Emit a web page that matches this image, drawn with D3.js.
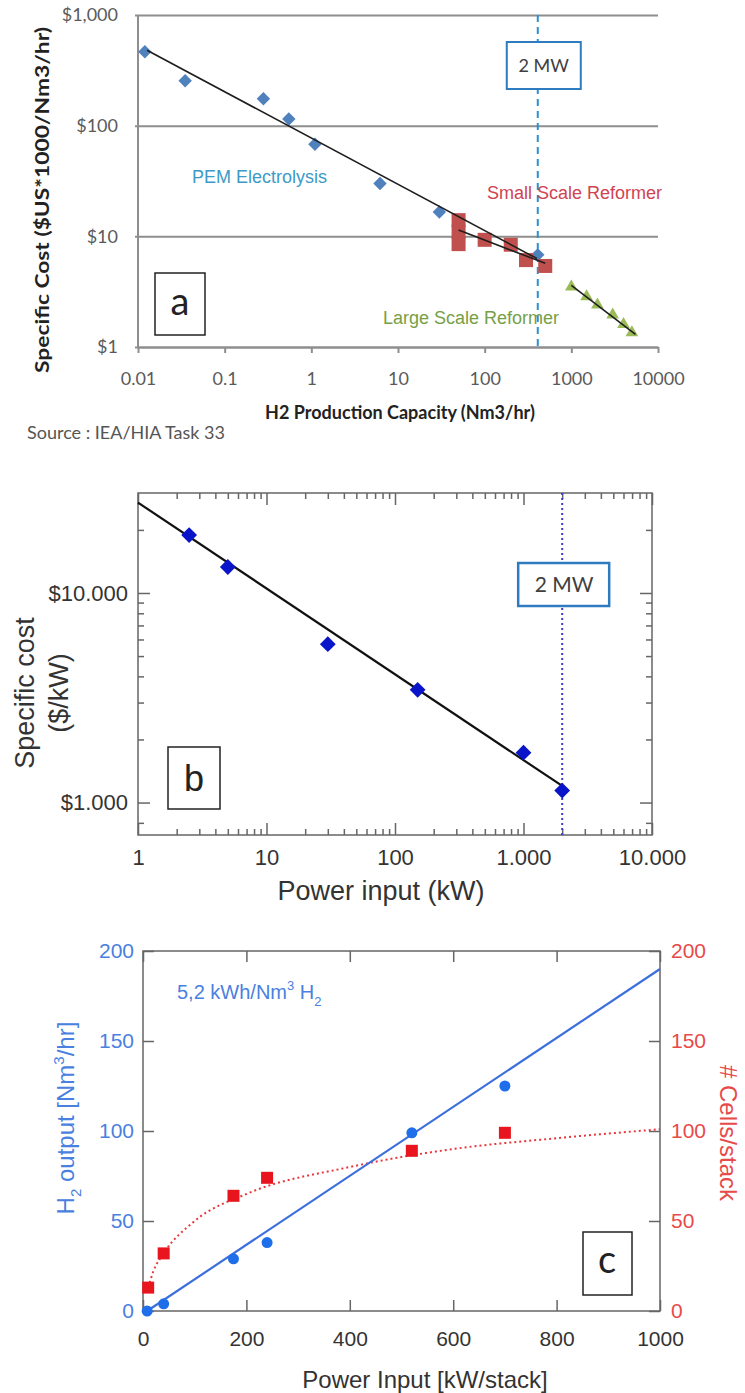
<!DOCTYPE html>
<html>
<head>
<meta charset="utf-8">
<script src="https://cdnjs.cloudflare.com/ajax/libs/d3/7.8.5/d3.min.js"></script>
<style>
body{margin:0;background:#fff;}
svg{display:block;}
</style>
</head>
<body>
<div id="chart"></div>
<script>
let width = 745;
let height = 1393;

// ---- panel a : specific cost vs H2 production capacity (log/log)
let pemCapacity = [0.012, 0.035, 0.28, 0.55, 1.1, 6.2, 30, 410];
let pemCost = [465, 255, 175, 115, 68, 30, 16.6, 6.8];
let smallCapacity = [50, 50, 50, 100, 200, 300, 500];
let smallCost = [14, 11, 8.5, 9.3, 8.4, 6.1, 5.4];
let largeCapacity = [1000, 1500, 2000, 3000, 4000, 5000];
let largeCost = [3.5, 2.85, 2.4, 1.95, 1.6, 1.35];
let pemTrend = [[0.0127, 480], [400, 6.3]];
let smallTrend = [[50, 11.4], [500, 5.7]];
let largeTrend = [[1000, 3.6], [5500, 1.3]];
let aXTicks = [0.01, 0.1, 1, 10, 100, 1000, 10000];
let aXLabels = ["0.01", "0.1", "1", "10", "100", "1000", "10000"];
let aYTicks = [1, 10, 100, 1000];
let aYLabels = ["$1", "$10", "$100", "$1,000"];
let aTwoMW = 410;

// ---- panel b : specific cost vs power input
let bPower = [2.5, 5, 30, 150, 1000, 2000];
let bCost = [18900, 13300, 5700, 3450, 1730, 1140];
let bTrend = [[1, 27000], [2000, 1200]];
let bXTicks = [1, 10, 100, 1000, 10000];
let bXLabels = ["1", "10", "100", "1.000", "10.000"];
let bYTicks = [1000, 10000];
let bYLabels = ["$1.000", "$10.000"];
let bYMinor = [800, 2000, 3000, 4000, 5000, 6000, 7000, 8000, 9000, 20000];
let bTwoMW = 2000;

// ---- panel c : H2 output and cells per stack vs power input
let cPowerH2 = [8, 40, 175, 240, 520, 700];
let cH2 = [0, 4, 29, 38, 99, 125];
let cPowerCells = [10, 40, 175, 240, 520, 700];
let cCells = [13, 32, 64, 74, 89, 99];
let cH2Line = [[8, 0], [1000, 190]];
let cCellsCurve = [[10, 13], [20, 22], [40, 32], [100, 50], [200, 65], [400, 80], [600, 90], [800, 96], [1000, 101]];
let cXTicks = [0, 200, 400, 600, 800, 1000];
let cYTicks = [0, 50, 100, 150, 200];

let svg = d3.select("#chart").append("svg")
  .attr("width", width)
  .attr("height", height);

function zip(xs, ys) {
  return xs.map(function(x, i) { return [x, ys[i]]; });
}

// ================= panel a =================
let xa = d3.scaleLog().domain([0.01, 10000]).range([138, 658]);
let ya = d3.scaleLog().domain([1, 1000]).range([347, 15]);
let pa = svg.append("g");

// gridlines + y labels
pa.append("g")
  .attr("transform", "translate(" + xa(0.01) + ",0)")
  .call(d3.axisLeft(ya).tickValues(aYTicks).tickSizeInner(-(xa(10000) - xa(0.01))).tickSizeOuter(0)
    .tickPadding(20).tickFormat(function(d, i) { return aYLabels[i]; }))
  .call(function(g) {
    g.select(".domain").remove();
    g.selectAll(".tick line").attr("stroke", "#8e8e8e").attr("stroke-width", 2).attr("x1", -3);
    g.selectAll("text").attr("fill", "#5a5a5a").style("font-family", "Lato").style("font-size", "18px");
  });

pa.append("line")
  .attr("x1", xa(0.01)).attr("x2", xa(0.01))
  .attr("y1", ya(1000)).attr("y2", ya(1))
  .attr("stroke", "#8e8e8e").attr("stroke-width", 2);

pa.append("g")
  .attr("transform", "translate(0," + ya(1) + ")")
  .call(d3.axisBottom(xa).tickValues(aXTicks).tickSize(6).tickSizeOuter(0).tickPadding(19)
    .tickFormat(function(d, i) { return aXLabels[i]; }))
  .call(function(g) {
    g.select(".domain").attr("stroke", "#8e8e8e").attr("stroke-width", 2);
    g.selectAll(".tick line").attr("stroke", "#8e8e8e").attr("stroke-width", 2);
    g.selectAll("text").attr("fill", "#5a5a5a").style("font-family", "Lato").style("font-size", "18px");
  });

// 2 MW dashed line
pa.append("line")
  .attr("x1", xa(aTwoMW)).attr("x2", xa(aTwoMW))
  .attr("y1", ya(1000)).attr("y2", ya(1))
  .attr("stroke", "#2f8fd2").attr("stroke-width", 2).attr("stroke-dasharray", "7,5");

let lineA = d3.line().x(function(d) { return xa(d[0]); }).y(function(d) { return ya(d[1]); });

pa.selectAll(".pem")
  .data(zip(pemCapacity, pemCost))
  .enter().append("path")
  .attr("d", d3.symbol().type(d3.symbolSquare).size(90))
  .attr("transform", function(d) { return "translate(" + xa(d[0]) + "," + ya(d[1]) + ") rotate(45)"; })
  .attr("fill", "#4f81bd");

pa.selectAll(".small")
  .data(zip(smallCapacity, smallCost))
  .enter().append("rect")
  .attr("x", function(d) { return xa(d[0]) - 7; })
  .attr("y", function(d) { return ya(d[1]) - 7; })
  .attr("width", 14).attr("height", 14)
  .attr("fill", "#c0504d");

pa.selectAll(".large")
  .data(zip(largeCapacity, largeCost))
  .enter().append("path")
  .attr("d", d3.symbol().type(d3.symbolTriangle).size(70))
  .attr("transform", function(d) { return "translate(" + xa(d[0]) + "," + ya(d[1]) + ")"; })
  .attr("fill", "#9bbb59");

[pemTrend, smallTrend, largeTrend].forEach(function(t) {
  pa.append("path").attr("d", lineA(t)).attr("fill", "none")
    .attr("stroke", "#1e1e1e").attr("stroke-width", 1.6);
});

pa.append("text").text("PEM Electrolysis")
  .attr("x", 192).attr("y", 183)
  .attr("fill", "#3d9ac6").style("font-family", "Liberation Sans").style("font-size", "18px");
pa.append("text").text("Small Scale Reformer")
  .attr("x", 487).attr("y", 199)
  .attr("fill", "#cf4352").style("font-family", "Liberation Sans").style("font-size", "18px");
pa.append("text").text("Large Scale Reformer")
  .attr("x", 383).attr("y", 324)
  .attr("fill", "#76a046").style("font-family", "Liberation Sans").style("font-size", "18px");

// 2 MW box
pa.append("rect")
  .attr("x", xa(aTwoMW) - 31).attr("y", 42).attr("width", 74).attr("height", 47)
  .attr("fill", "#fff").attr("stroke", "#2e7bc0").attr("stroke-width", 2);
pa.append("text").text("2 MW")
  .attr("x", xa(aTwoMW) + 6).attr("y", 72).attr("text-anchor", "middle")
  .attr("fill", "#404040").style("font-family", "Lato").style("font-size", "18px");

// a box
pa.append("rect").attr("x", 155).attr("y", 273).attr("width", 50).attr("height", 62)
  .attr("fill", "#fff").attr("stroke", "#222").attr("stroke-width", 1.5);
pa.append("text").text("a").attr("x", 180).attr("y", 315).attr("text-anchor", "middle")
  .attr("fill", "#222").style("font-family", "Lato").style("font-size", "38px");

pa.append("text").text("Specific Cost ($US*1000/Nm3/hr)")
  .attr("transform", "translate(49,200) rotate(-90)")
  .attr("text-anchor", "middle")
  .attr("textLength", 346).attr("lengthAdjust", "spacingAndGlyphs")
  .attr("fill", "#222").style("font-family", "Lato").style("font-weight", "bold").style("font-size", "19px");

pa.append("text").text("H2 Production Capacity (Nm3/hr)")
  .attr("x", 400).attr("y", 419).attr("text-anchor", "middle")
  .attr("fill", "#222").style("font-family", "Lato").style("font-weight", "bold").style("font-size", "18px");

pa.append("text").text("Source : IEA/HIA Task 33")
  .attr("x", 27).attr("y", 439)
  .attr("fill", "#555").style("font-family", "Lato").style("font-size", "18px");

// ================= panel b =================
let xb = d3.scaleLog().domain([1, 10000]).range([138, 652]);
let yb = d3.scaleLog().domain([700, 30000]).range([835, 493]);
let pb = svg.append("g");
let bMinorX = [1, 10, 100, 1000].flatMap(function(p) { return [2, 3, 4, 5, 6, 7, 8, 9].map(function(m) { return m * p; }); });

pb.append("rect")
  .attr("x", xb(1)).attr("y", yb(30000))
  .attr("width", xb(10000) - xb(1)).attr("height", yb(700) - yb(30000))
  .attr("fill", "none").attr("stroke", "#666").attr("stroke-width", 1.5);

function tickStyle(g, color) {
  g.select(".domain").remove();
  g.selectAll(".tick line").attr("stroke", color).attr("stroke-width", 1.5);
}

let bFont = function(g) {
  g.selectAll("text").attr("fill", "#333").style("font-family", "Liberation Sans").style("font-size", "22px");
};

pb.append("g").attr("transform", "translate(0," + yb(700) + ")")
  .call(d3.axisBottom(xb).tickValues(bXTicks).tickSizeInner(-12).tickSizeOuter(0).tickPadding(14)
    .tickFormat(function(d, i) { return bXLabels[i]; }))
  .call(tickStyle, "#666").call(bFont);
pb.append("g").attr("transform", "translate(0," + yb(700) + ")")
  .call(d3.axisBottom(xb).tickValues(bMinorX).tickSizeInner(-6).tickSizeOuter(0).tickFormat(""))
  .call(tickStyle, "#666");
pb.append("g").attr("transform", "translate(0," + yb(30000) + ")")
  .call(d3.axisTop(xb).tickValues(bXTicks).tickSizeInner(-12).tickSizeOuter(0).tickFormat(""))
  .call(tickStyle, "#666");
pb.append("g").attr("transform", "translate(0," + yb(30000) + ")")
  .call(d3.axisTop(xb).tickValues(bMinorX).tickSizeInner(-6).tickSizeOuter(0).tickFormat(""))
  .call(tickStyle, "#666");

pb.append("g").attr("transform", "translate(" + xb(1) + ",0)")
  .call(d3.axisLeft(yb).tickValues(bYTicks).tickSizeInner(-12).tickSizeOuter(0).tickPadding(10)
    .tickFormat(function(d, i) { return bYLabels[i]; }))
  .call(tickStyle, "#666").call(bFont);
pb.append("g").attr("transform", "translate(" + xb(1) + ",0)")
  .call(d3.axisLeft(yb).tickValues(bYMinor).tickSizeInner(-6).tickSizeOuter(0).tickFormat(""))
  .call(tickStyle, "#666");
pb.append("g").attr("transform", "translate(" + xb(10000) + ",0)")
  .call(d3.axisRight(yb).tickValues(bYTicks).tickSizeInner(-12).tickSizeOuter(0).tickFormat(""))
  .call(tickStyle, "#666");
pb.append("g").attr("transform", "translate(" + xb(10000) + ",0)")
  .call(d3.axisRight(yb).tickValues(bYMinor).tickSizeInner(-6).tickSizeOuter(0).tickFormat(""))
  .call(tickStyle, "#666");

// 2 MW dotted line
pb.append("line")
  .attr("x1", xb(bTwoMW)).attr("x2", xb(bTwoMW))
  .attr("y1", yb(30000)).attr("y2", yb(700))
  .attr("stroke", "#3c3cd0").attr("stroke-width", 2).attr("stroke-dasharray", "2,3");

let lineB = d3.line().x(function(d) { return xb(d[0]); }).y(function(d) { return yb(d[1]); });
pb.append("path").attr("d", lineB(bTrend)).attr("fill", "none")
  .attr("stroke", "#111").attr("stroke-width", 2.2);

pb.selectAll(".bpt")
  .data(zip(bPower, bCost))
  .enter().append("path")
  .attr("d", d3.symbol().type(d3.symbolSquare).size(125))
  .attr("transform", function(d) { return "translate(" + xb(d[0]) + "," + yb(d[1]) + ") rotate(45)"; })
  .attr("fill", "#0a14c8");

pb.append("rect")
  .attr("x", xb(bTwoMW) - 44).attr("y", 563).attr("width", 91).attr("height", 43)
  .attr("fill", "#fff").attr("stroke", "#2e7bc0").attr("stroke-width", 2.5);
pb.append("text").text("2 MW")
  .attr("x", xb(bTwoMW) + 2).attr("y", 592).attr("text-anchor", "middle")
  .attr("fill", "#404040").style("font-family", "Lato").style("font-size", "21px");

pb.append("rect").attr("x", 168).attr("y", 747).attr("width", 52).attr("height", 62)
  .attr("fill", "#fff").attr("stroke", "#222").attr("stroke-width", 1.5);
pb.append("text").text("b").attr("x", 194).attr("y", 791).attr("text-anchor", "middle")
  .attr("fill", "#222").style("font-family", "Liberation Sans").style("font-size", "36px");

let bTitle = pb.append("text")
  .attr("transform", "translate(37,693) rotate(-90)")
  .attr("text-anchor", "middle")
  .attr("fill", "#333").style("font-family", "Liberation Sans").style("font-size", "27px");
bTitle.append("tspan").attr("x", 0).attr("dy", "-0.1em").text("Specific cost");
bTitle.append("tspan").attr("x", 0).attr("dy", "1.25em").text("($/kW)");

pb.append("text").text("Power input (kW)")
  .attr("x", 381).attr("y", 900).attr("text-anchor", "middle")
  .attr("fill", "#333").style("font-family", "Liberation Sans").style("font-size", "27px");

// ================= panel c =================
let xc = d3.scaleLinear().domain([0, 1000]).range([143, 660]);
let yc = d3.scaleLinear().domain([0, 200]).range([1311, 951]);
let yc2 = d3.scaleLinear().domain([0, 200]).range([1311, 951]);
let pc = svg.append("g");
let red = "#e8141e";

pc.append("rect")
  .attr("x", xc(0)).attr("y", yc(200))
  .attr("width", xc(1000) - xc(0)).attr("height", yc(0) - yc(200))
  .attr("fill", "none").attr("stroke", "#666").attr("stroke-width", 1.5);

pc.append("g").attr("transform", "translate(0," + yc(0) + ")")
  .call(d3.axisBottom(xc).tickValues(cXTicks).tickSizeInner(-11).tickSizeOuter(0).tickPadding(20).tickFormat(d3.format("d")))
  .call(tickStyle, "#666")
  .call(function(g) {
    g.selectAll("text").attr("fill", "#333").style("font-family", "Liberation Sans").style("font-size", "21px");
  });
pc.append("g").attr("transform", "translate(0," + yc(200) + ")")
  .call(d3.axisTop(xc).tickValues(cXTicks).tickSizeInner(-11).tickSizeOuter(0).tickFormat(""))
  .call(tickStyle, "#666");
pc.append("g").attr("transform", "translate(" + xc(0) + ",0)")
  .call(d3.axisLeft(yc).tickValues(cYTicks).tickSizeInner(-11).tickSizeOuter(0).tickPadding(9))
  .call(tickStyle, "#666")
  .call(function(g) {
    g.selectAll("text").attr("fill", "#4a80e0").style("font-family", "Liberation Sans").style("font-size", "21px");
  });
pc.append("g").attr("transform", "translate(" + xc(1000) + ",0)")
  .call(d3.axisRight(yc2).tickValues(cYTicks).tickSizeInner(-11).tickSizeOuter(0).tickPadding(11))
  .call(tickStyle, "#666")
  .call(function(g) {
    g.selectAll("text").attr("fill", "#e84a4a").style("font-family", "Liberation Sans").style("font-size", "21px");
  });

let lineC = d3.line().x(function(d) { return xc(d[0]); }).y(function(d) { return yc(d[1]); });
let curveC = d3.line().curve(d3.curveMonotoneX)
  .x(function(d) { return xc(d[0]); }).y(function(d) { return yc2(d[1]); });

pc.append("path").attr("d", curveC(cCellsCurve)).attr("fill", "none")
  .attr("stroke", "#e8383c").attr("stroke-width", 2).attr("stroke-dasharray", "2,3");
pc.append("path").attr("d", lineC(cH2Line)).attr("fill", "none")
  .attr("stroke", "#3d6fdc").attr("stroke-width", 2.2);

pc.selectAll(".cells")
  .data(zip(cPowerCells, cCells))
  .enter().append("rect")
  .attr("x", function(d) { return xc(d[0]) - 6; })
  .attr("y", function(d) { return yc2(d[1]) - 6; })
  .attr("width", 12).attr("height", 12)
  .attr("fill", red);

pc.selectAll(".h2")
  .data(zip(cPowerH2, cH2))
  .enter().append("circle")
  .attr("cx", function(d) { return xc(d[0]); })
  .attr("cy", function(d) { return yc(d[1]); })
  .attr("r", 5.5)
  .attr("fill", "#1f6feb");

let note = pc.append("text").attr("x", 177).attr("y", 999)
  .attr("fill", "#4a80e0").style("font-family", "Liberation Sans").style("font-size", "20px");
note.append("tspan").text("5,2 kWh/Nm");
note.append("tspan").attr("dy", -9).style("font-size", "13px").text("3");
note.append("tspan").attr("dy", 9).text(" H");
note.append("tspan").attr("dy", 7).style("font-size", "13px").text("2");

let cLeft = pc.append("text")
  .attr("transform", "translate(74,1118) rotate(-90)")
  .attr("text-anchor", "middle")
  .attr("fill", "#4a80e0").style("font-family", "Liberation Sans").style("font-size", "24px");
cLeft.append("tspan").text("H");
cLeft.append("tspan").attr("dy", 7).style("font-size", "15px").text("2");
cLeft.append("tspan").attr("dy", -7).text(" output [Nm");
cLeft.append("tspan").attr("dy", -10).style("font-size", "15px").text("3");
cLeft.append("tspan").attr("dy", 10).text("/hr]");

pc.append("text").text("# Cells/stack")
  .attr("transform", "translate(720,1133) rotate(90)")
  .attr("text-anchor", "middle")
  .attr("fill", "#e84a4a").style("font-family", "Liberation Sans").style("font-size", "24px");

pc.append("text").text("Power Input [kW/stack]")
  .attr("x", 425).attr("y", 1388).attr("text-anchor", "middle")
  .attr("fill", "#333").style("font-family", "Liberation Sans").style("font-size", "24px");

pc.append("rect").attr("x", 583).attr("y", 1232).attr("width", 49).attr("height", 63)
  .attr("fill", "#fff").attr("stroke", "#222").attr("stroke-width", 1.5);
pc.append("text").text("c").attr("x", 607).attr("y", 1273).attr("text-anchor", "middle")
  .attr("fill", "#222").style("font-family", "Lato").style("font-size", "38px");
</script>
</body>
</html>
